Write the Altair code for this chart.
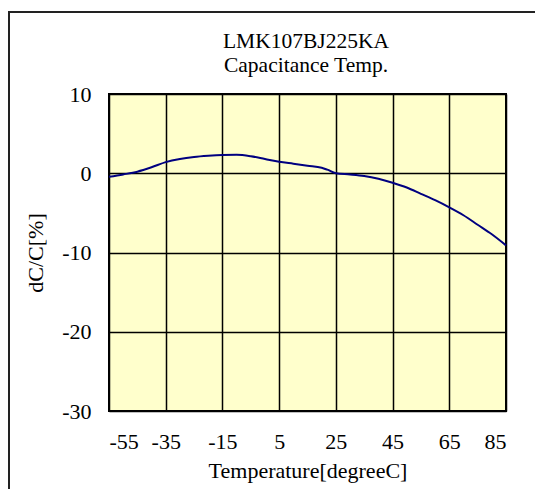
import altair as alt
import pandas as pd

temps = [-55, -50, -45, -40, -35, -30, -25, -20, -15, -10, -5, 0, 5, 10, 15, 20, 22, 25,
         30, 35, 40, 45, 50, 55, 60, 65, 70, 75, 80, 85]
dcc = [-0.45, -0.15, 0.2, 0.75, 1.4, 1.8, 2.05, 2.2, 2.3, 2.33, 2.15, 1.8, 1.45, 1.2, 0.95,
       0.7, 0.45, 0.0, -0.15, -0.35, -0.7, -1.2, -1.8, -2.6, -3.4, -4.3, -5.3, -6.5, -7.7, -9.1]
x_ticks = [-55, -35, -15, 5, 25, 45, 65, 85]
y_ticks = [-30, -20, -10, 0, 10]
title_lines = ["LMK107BJ225KA", "Capacitance Temp."]

df = pd.DataFrame({"t": temps, "d": dcc})
one = pd.DataFrame({"k": [0]})
FONT = "Liberation Serif"

W, H = 397, 317

top_edge = alt.Chart(one).mark_rule(color="#222222", strokeWidth=2).encode(
    x=alt.value(-100), x2=alt.value(426), y=alt.value(-82)
)
left_edge = alt.Chart(one).mark_rule(color="#222222", strokeWidth=2).encode(
    x=alt.value(-100), y=alt.value(-83), y2=alt.value(395)
)

t1 = alt.Chart(one).mark_text(font=FONT, fontSize=21.5, color="black", align="center",
                              baseline="alphabetic", text=title_lines[0]).encode(
    x=alt.value(197), y=alt.value(-46)
)
t2 = alt.Chart(one).mark_text(font=FONT, fontSize=21.5, color="black", align="center",
                              baseline="alphabetic", text=title_lines[1]).encode(
    x=alt.value(197), y=alt.value(-22)
)

line = alt.Chart(df).mark_line(color="#000080", strokeWidth=2, interpolate="monotone").encode(
    x=alt.X("t:Q", scale=alt.Scale(domain=[-55, 85], nice=False),
            axis=alt.Axis(values=x_ticks, title="Temperature[degreeC]", grid=True,
                          labelExpr="'' + datum.value")),
    y=alt.Y("d:Q", scale=alt.Scale(domain=[-30, 10], nice=False),
            axis=alt.Axis(values=y_ticks, title="dC/C[%]", grid=True,
                          labelExpr="'' + datum.value")),
)

chart = alt.layer(top_edge, left_edge, t1, t2, line).properties(
    width=W, height=H,
    autosize=alt.AutoSizeParams(type="none"),
    padding={"left": 101, "top": 86, "right": 29, "bottom": 78},
).configure_view(
    fill="#FFFFCC", stroke="black", strokeWidth=2
).configure_axis(
    gridColor="black", gridWidth=1.5, gridOpacity=1,
    domain=False, ticks=False,
    labelFont=FONT, labelFontSize=22, labelColor="black", labelPadding=18,
    titleFont=FONT, titleFontSize=22, titleColor="black", titleFontWeight="normal",
).configure_axisX(
    labelPadding=20, titlePadding=8
).configure_axisY(
    titlePadding=14
)

chart.save("out.html", embed_options={"renderer": "svg", "actions": False})
